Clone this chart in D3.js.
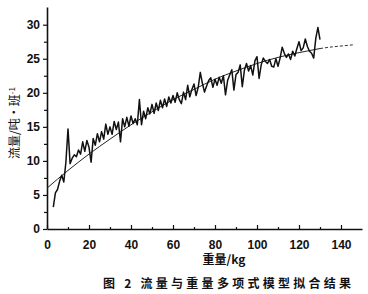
<!DOCTYPE html>
<html lang="zh">
<head>
<meta charset="utf-8">
<script src="https://d3js.org/d3.v7.min.js"></script>
<style>
  body { margin: 0; background: #fff; }
  svg { display: block; }
  .tick text { font: bold 12px "Liberation Sans", Arial, sans-serif; fill: #111; }
  .cjk { font-family: "Noto Sans CJK SC", sans-serif; fill: #111; }
</style>
</head>
<body>
<script>
var width = 368, height = 294;

// measured flow (t per shift) against weight (kg), one point per kg
var weights = d3.range(3, 131);
var flow = [
  3.2, 5.3, 5.8, 7.0, 7.9, 6.9, 9.8, 14.7, 9.6, 10.4,
  10.9, 10.6, 11.6, 11.0, 12.8, 11.4, 13.0, 12.0, 9.8, 13.3,
  12.3, 14.0, 12.8, 14.3, 13.2, 15.4, 13.9, 15.0, 13.9, 15.8,
  14.6, 15.7, 12.8, 16.2, 15.0, 16.4, 15.1, 16.6, 15.5, 16.2,
  15.3, 19.0, 15.3, 17.3, 16.2, 17.8, 16.9, 18.3, 17.0, 18.5,
  17.4, 18.9, 17.8, 19.1, 18.0, 19.4, 18.5, 19.6, 18.6, 20.0,
  19.0, 18.4, 20.1, 19.0, 21.1, 19.4, 20.5, 21.3, 19.6, 20.8,
  23.0, 21.4, 20.1, 21.0, 21.8, 22.2, 20.8, 22.0, 21.1, 22.3,
  21.4, 22.5, 19.7, 21.8, 22.6, 23.4, 20.4, 22.7, 23.0, 24.1,
  20.9, 23.3, 24.3, 23.2, 24.0, 22.6, 24.7, 25.3, 22.1, 24.1,
  25.1, 24.6, 24.3, 24.9, 23.9, 23.8, 25.0, 23.9, 25.1, 26.7,
  25.8, 25.2, 25.7, 24.9, 26.1, 25.4, 26.5, 27.5, 26.2, 26.6,
  27.9, 26.8, 26.1, 25.8, 25.1, 28.0, 29.6, 27.8
];

// polynomial fit curve
var fitX = [0, 10, 20, 30, 40, 50, 60, 70, 80, 90, 100, 110, 120, 130];
var fitY = [6.0, 8.6, 11.0, 13.2, 15.3, 17.2, 19.0, 20.5, 22.0, 23.2, 24.3, 25.2, 25.9, 26.5];
var fitExtX = [130, 136, 141, 146];
var fitExtY = [26.5, 26.75, 26.9, 27.05];

var xTicks = [0, 20, 40, 60, 80, 100, 120, 140];
var yTicks = [0, 5, 10, 15, 20, 25, 30];

var yTitle = "流量/吨·班";
var xTitle = "重量/kg";
var caption = "图 2  流量与重量多项式模型拟合结果";

var x = d3.scaleLinear().domain([0, 150]).range([47, 362]);
var y = d3.scaleLinear().domain([0, 32.6]).range([229, 7]);

var svg = d3.select("body").append("svg")
  .attr("width", width)
  .attr("height", height);

// minor ticks
svg.append("g")
  .attr("transform", "translate(0," + y(0) + ")")
  .call(d3.axisTop(x).tickValues(d3.range(10, 150, 20)).tickSize(2).tickFormat(""))
  .call(function(g) { g.select(".domain").remove(); });
svg.append("g")
  .attr("transform", "translate(" + x(0) + ",0)")
  .call(d3.axisLeft(y).tickValues(d3.range(2.5, 32.5, 5)).tickSize(3).tickFormat(""))
  .call(function(g) { g.select(".domain").remove(); });

// major axes
var xAxis = svg.append("g")
  .attr("transform", "translate(0," + y(0) + ")")
  .call(d3.axisTop(x).tickValues(xTicks).tickSize(4).tickSizeOuter(0));
xAxis.selectAll(".tick text").attr("y", 11).attr("dy", "0.71em");

svg.append("g")
  .attr("transform", "translate(" + x(0) + ",0)")
  .call(d3.axisLeft(y).tickValues(yTicks).tickSize(4).tickSizeOuter(0).tickPadding(3));

svg.selectAll(".domain").attr("stroke", "#111").attr("stroke-width", 1.6);
svg.selectAll(".tick line").attr("stroke", "#111").attr("stroke-width", 1.2);

// fitted curve
var fitLine = d3.line()
  .x(function(d) { return x(d[0]); })
  .y(function(d) { return y(d[1]); })
  .curve(d3.curveMonotoneX);

svg.append("path")
  .datum(d3.zip(fitX, fitY))
  .attr("d", fitLine)
  .attr("fill", "none")
  .attr("stroke", "#222")
  .attr("stroke-width", 1);

svg.append("path")
  .datum(d3.zip(fitExtX, fitExtY))
  .attr("d", fitLine)
  .attr("fill", "none")
  .attr("stroke", "#333")
  .attr("stroke-width", 1)
  .attr("stroke-dasharray", "3,2");

// measured data
var dataLine = d3.line()
  .x(function(d) { return x(d[0]); })
  .y(function(d) { return y(d[1]); });

svg.append("path")
  .datum(d3.zip(weights, flow))
  .attr("d", dataLine)
  .attr("fill", "none")
  .attr("stroke", "#111")
  .attr("stroke-width", 1.5)
  .attr("stroke-linejoin", "round");

// titles
var yt = svg.append("text")
  .attr("class", "cjk")
  .attr("transform", "translate(19,123) rotate(-90)")
  .attr("text-anchor", "middle")
  .style("font-size", "12px");
yt.append("tspan").text(yTitle);
yt.append("tspan").attr("dy", "-0.45em").style("font-size", "8px").text("-1");

svg.append("text")
  .attr("class", "cjk")
  .attr("x", 224)
  .attr("y", 264)
  .attr("text-anchor", "middle")
  .style("font-size", "12px")
  .style("font-weight", "bold")
  .text(xTitle);

svg.append("text")
  .attr("class", "cjk")
  .attr("x", 103)
  .attr("y", 288)
  .attr("textLength", 248)
  .attr("lengthAdjust", "spacing")
  .style("font-size", "12px")
  .style("font-weight", "bold")
  .text(caption);
</script>
</body>
</html>
